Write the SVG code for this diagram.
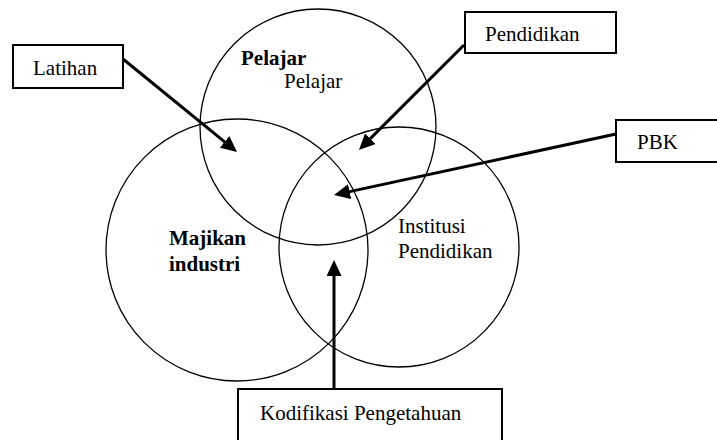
<svg xmlns="http://www.w3.org/2000/svg" width="717" height="440" viewBox="0 0 717 440">
<style>
.bg{fill:#fff}
.circ{fill:none;stroke:#000;stroke-width:1.3}
.box{fill:#fff;stroke:#000;stroke-width:2}
.t{font-size:21px;fill:#000}
.b{font-weight:bold}
.arr{stroke:#000;stroke-width:3;fill:none;marker-end:url(#ah)}
</style>
<defs>
<marker id="ah" markerUnits="userSpaceOnUse" markerWidth="16" markerHeight="15" refX="6" refY="7.5" orient="auto">
<path d="M0,0 L16,7.5 L0,15 z" fill="#000"/>
</marker>
</defs>
<rect class="bg" x="0" y="0" width="717" height="440"/>
<g font-family="Liberation Serif, Tinos, DejaVu Serif, serif">
<g id="pelajar">
<circle class="circ" cx="318" cy="127" r="118"/>
<text class="t b" x="241" y="65">Pelajar</text>
<text class="t" x="284" y="88">Pelajar</text>
</g>
<g id="majikan">
<circle class="circ" cx="237" cy="250" r="131"/>
<text class="t b" x="169" y="245">Majikan</text>
<text class="t b" x="169" y="271">industri</text>
</g>
<g id="institusi">
<circle class="circ" cx="399" cy="247" r="120"/>
<text class="t" x="398" y="233">Institusi</text>
<text class="t" x="398" y="258">Pendidikan</text>
</g>
<g id="latihan">
<rect class="box" x="13" y="45" width="110" height="43"/>
<text class="t" x="33" y="75">Latihan</text>
</g>
<g id="pendidikan">
<rect class="box" x="465" y="12" width="151" height="41"/>
<text class="t" x="485" y="41">Pendidikan</text>
</g>
<g id="pbk">
<rect class="box" x="616" y="120" width="120" height="42"/>
<text class="t" x="637" y="149">PBK</text>
</g>
<g id="kodifikasi">
<rect class="box" x="238" y="389" width="264" height="70"/>
<text class="t" x="260" y="420">Kodifikasi Pengetahuan</text>
</g>
</g>
<g id="connectors">
<line class="arr" x1="123" y1="59" x2="229.25" y2="145.68"/>
<line class="arr" x1="464" y1="45" x2="366.04" y2="142.9"/>
<line class="arr" x1="616" y1="134" x2="343.77" y2="192.89"/>
<line class="arr" x1="334" y1="389" x2="334" y2="270"/>
</g>
</svg>
